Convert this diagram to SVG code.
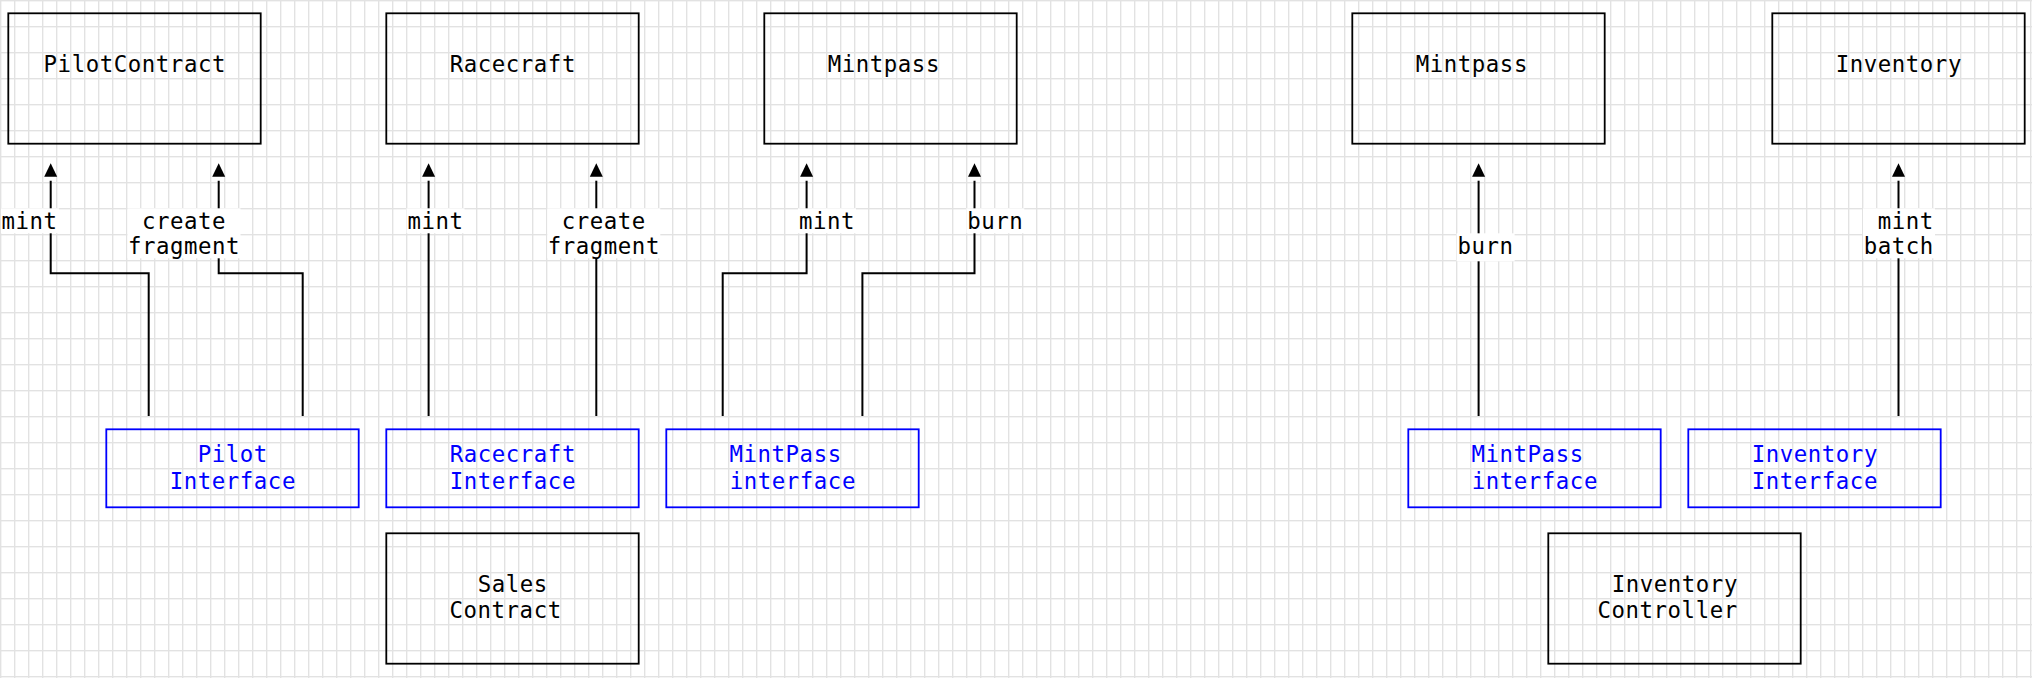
<svg xmlns="http://www.w3.org/2000/svg" width="2032" height="678" viewBox="0 0 2032 678">
<style>
.box{fill:none;stroke:#000;stroke-width:1.8}
.ibox{fill:none;stroke:#0000ff;stroke-width:1.8}
.t{font-family:"DejaVu Sans Mono",monospace;font-size:22.4px;letter-spacing:0.55px;fill:#000;text-anchor:middle}
.bt{fill:#0000ff}
.edge{fill:none;stroke:#000;stroke-width:2;marker-end:url(#arr)}
.lbg{fill:#fff}
</style>
<defs>
<pattern id="grid" x="0" y="0" width="14" height="26" patternUnits="userSpaceOnUse">
<rect x="0" y="0" width="1.4" height="26" fill="#e2e2e2"/>
<rect x="0" y="0" width="14" height="1.4" fill="#e2e2e2"/>
</pattern>
<marker id="arr" markerUnits="userSpaceOnUse" markerWidth="20" markerHeight="20" refX="0" refY="0" orient="auto" overflow="visible">
<path d="M4,-6.5 L17.4,0 L4,6.5 Z" fill="#000"/>
</marker>
</defs>
<rect width="2032" height="678" fill="#fff"/>
<rect width="2032" height="678" fill="url(#grid)"/>

<g id="pilotcontract"><rect class="box" x="8.3" y="13.3" width="252.4" height="130.4"/><text class="t" x="134.8" y="71.5">PilotContract</text></g>
<g id="racecraft"><rect class="box" x="386.3" y="13.3" width="252.4" height="130.4"/><text class="t" x="512.8" y="71.5">Racecraft</text></g>
<g id="mintpass1"><rect class="box" x="764.3" y="13.3" width="252.4" height="130.4"/><text class="t" x="883.8" y="71.5">Mintpass</text></g>
<g id="mintpass2"><rect class="box" x="1352.3" y="13.3" width="252.4" height="130.4"/><text class="t" x="1471.8" y="71.5">Mintpass</text></g>
<g id="inventory"><rect class="box" x="1772.3" y="13.3" width="252.4" height="130.4"/><text class="t" x="1898.8" y="71.5">Inventory</text></g>

<g id="pilotinterface"><rect class="ibox" x="106.3" y="429.3" width="252.4" height="78"/><text class="t bt" x="232.8" y="462.3">Pilot</text><text class="t bt" x="232.8" y="488.6">Interface</text></g>
<g id="racecraftinterface"><rect class="ibox" x="386.3" y="429.3" width="252.4" height="78"/><text class="t bt" x="512.8" y="462.3">Racecraft</text><text class="t bt" x="512.8" y="488.6">Interface</text></g>
<g id="mintpassinterface1"><rect class="ibox" x="666.3" y="429.3" width="252.4" height="78"/><text class="t bt" x="785.6" y="462.3">MintPass</text><text class="t bt" x="792.8" y="488.6">interface</text></g>
<g id="mintpassinterface2"><rect class="ibox" x="1408.3" y="429.3" width="252.4" height="78"/><text class="t bt" x="1527.6" y="462.3">MintPass</text><text class="t bt" x="1534.8" y="488.6">interface</text></g>
<g id="inventoryinterface"><rect class="ibox" x="1688.3" y="429.3" width="252.4" height="78"/><text class="t bt" x="1814.8" y="462.3">Inventory</text><text class="t bt" x="1814.8" y="488.6">Interface</text></g>

<g id="salescontract"><rect class="box" x="386.3" y="533.3" width="252.4" height="130.4"/><text class="t" x="512.8" y="592">Sales</text><text class="t" x="505.6" y="618.3">Contract</text></g>
<g id="inventorycontroller"><rect class="box" x="1548.3" y="533.3" width="252.4" height="130.4"/><text class="t" x="1674.8" y="592">Inventory</text><text class="t" x="1667.6" y="618.3">Controller</text></g>

<g id="connectors">
<g id="e1"><path class="edge" d="M148.7 416 V273.3 H50.7 V180.7"/><rect class="lbg" x="1" y="208.3" width="58" height="25"/><text class="t" x="29.5" y="228.8">mint</text></g>
<g id="e2"><path class="edge" d="M302.7 416 V273.3 H218.7 V180.7"/><rect class="lbg" x="127.5" y="208.3" width="113" height="50"/><text class="t" x="184" y="228.8">create</text><text class="t" x="184" y="254.2">fragment</text></g>
<g id="e3"><path class="edge" d="M428.6 416 V180.7"/><rect class="lbg" x="406.5" y="208.3" width="58" height="25"/><text class="t" x="435.5" y="228.8">mint</text></g>
<g id="e4"><path class="edge" d="M596.3 416 V180.7"/><rect class="lbg" x="547.3" y="208.3" width="113" height="50"/><text class="t" x="603.8" y="228.8">create</text><text class="t" x="603.8" y="254.2">fragment</text></g>
<g id="e5"><path class="edge" d="M722.7 416 V273.3 H806.6 V180.7"/><rect class="lbg" x="798" y="208.3" width="58" height="25"/><text class="t" x="827" y="228.8">mint</text></g>
<g id="e6"><path class="edge" d="M862.4 416 V273.3 H974.5 V180.7"/><rect class="lbg" x="966.3" y="208.3" width="58" height="25"/><text class="t" x="995.3" y="228.8">burn</text></g>
<g id="e7"><path class="edge" d="M1478.6 416 V180.7"/><rect class="lbg" x="1456.6" y="233.3" width="58" height="28"/><text class="t" x="1485.6" y="254.2">burn</text></g>
<g id="e8"><path class="edge" d="M1898.5 416 V180.7"/><rect class="lbg" x="1863" y="208.3" width="72" height="50"/><text class="t" x="1905.8" y="228.8">mint</text><text class="t" x="1898.8" y="254.2">batch</text></g>
</g>
</svg>
